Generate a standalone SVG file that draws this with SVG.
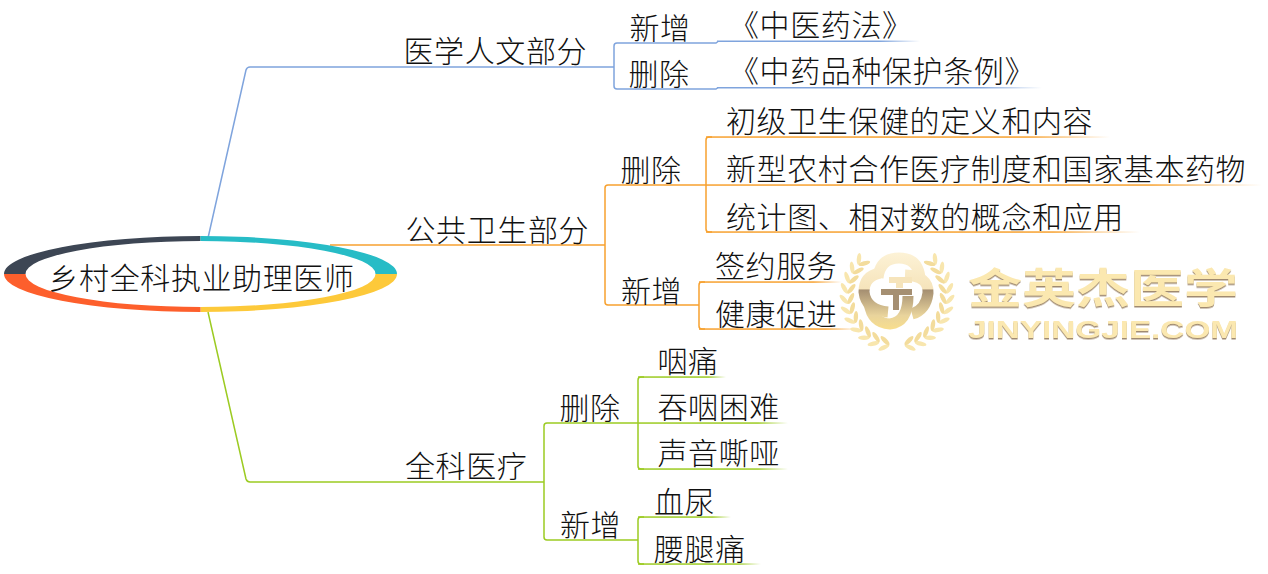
<svg xmlns="http://www.w3.org/2000/svg" width="1268" height="574" viewBox="0 0 1268 574">
<style>
text{font-family:"Noto Sans CJK SC","Noto Sans CJK JP",sans-serif;font-size:30px;font-weight:300;fill:#111;letter-spacing:.6px}
.c{fill:none;stroke-width:1.5}
.b{stroke:#7fa4dd}.o{stroke:#f7a12f}.g{stroke:#9ccb22}
.wm{fill:#fbe8b0;font-weight:700;filter:url(#sh);letter-spacing:0}
.gold{fill:none;stroke:url(#gold);stroke-width:11}
</style>
<defs>
<linearGradient id="fb"><stop offset="0" stop-color="#7fa4dd"/><stop offset=".8" stop-color="#7fa4dd"/><stop offset="1" stop-color="#7fa4dd" stop-opacity="0"/></linearGradient>
<linearGradient id="fo"><stop offset="0" stop-color="#f7a12f"/><stop offset=".8" stop-color="#f7a12f"/><stop offset="1" stop-color="#f7a12f" stop-opacity="0"/></linearGradient>
<linearGradient id="fg"><stop offset="0" stop-color="#9ccb22"/><stop offset=".8" stop-color="#9ccb22"/><stop offset="1" stop-color="#9ccb22" stop-opacity="0"/></linearGradient>
<linearGradient id="gold" gradientUnits="userSpaceOnUse" x1="0" y1="250" x2="0" y2="332"><stop offset="0" stop-color="#fdf3d8"/><stop offset=".47" stop-color="#f6e4bb"/><stop offset=".49" stop-color="#a58f72"/><stop offset=".8" stop-color="#e9d49c"/><stop offset="1" stop-color="#fbe08a"/></linearGradient>
<filter id="sh" x="-5%" y="-10%" width="110%" height="125%"><feDropShadow dx="0" dy="1.5" stdDeviation=".4" flood-color="#a08a70"/></filter>
<g id="leafL"><ellipse cx="901" cy="243" rx="2.2" ry="6" fill="#f8e6ae" transform="rotate(55 901 243)"/><ellipse cx="901" cy="250" rx="2.2" ry="6" fill="#f3dc9c" transform="rotate(125 901 250)"/></g>
<g id="leafR"><ellipse cx="893" cy="243" rx="2.2" ry="6" fill="#f8e6ae" transform="rotate(-55 893 243)"/><ellipse cx="893" cy="250" rx="2.2" ry="6" fill="#f3dc9c" transform="rotate(-125 893 250)"/></g>
</defs>

<g id="connectors">
<path class="c b" d="M208 238 L246 70 Q247 67 250 67 L614 67"/>
<path class="c b" d="M614 67 V46 Q614 43 617 43 H716 L718 41.5 M614 67 V86 Q614 89 617 89 H716 L718 87.5"/>
<rect x="717" y="40.5" width="203" height="1.5" fill="url(#fb)"/>
<rect x="717" y="87" width="325" height="1.5" fill="url(#fb)"/>

<path class="c o" d="M330 245 H605"/>
<path class="c o" d="M605 245 V188 Q605 185 608 185 H706 M605 245 V302 Q605 305 608 305 H699"/>
<path class="c o" d="M706 185 V140 Q706 137 709 137 H712 M706 185 V229 Q706 232 709 232 H712"/>
<rect x="706" y="136.3" width="404" height="1.5" fill="url(#fo)"/>
<rect x="706" y="184.3" width="556" height="1.5" fill="url(#fo)"/>
<rect x="706" y="231.3" width="434" height="1.5" fill="url(#fo)"/>
<path class="c o" d="M699 305 V285 Q699 282 702 282 H705 M699 305 V326 Q699 329 702 329 H705"/>
<rect x="699" y="281.3" width="143" height="1.5" fill="url(#fo)"/>
<rect x="699" y="328.3" width="158" height="1.5" fill="url(#fo)"/>

<path class="c g" d="M208 312 L246 479 Q247 482 250 482 L544 482"/>
<path class="c g" d="M544 482 V426 Q544 423 547 423 H638 M544 482 V537 Q544 540 547 540 H638"/>
<path class="c g" d="M638 423 V380 Q638 377 641 377 H644 M638 423 V466 Q638 469 641 469 H644"/>
<rect x="638" y="376.3" width="88" height="1.5" fill="url(#fg)"/>
<rect x="638" y="422.3" width="150" height="1.5" fill="url(#fg)"/>
<rect x="638" y="468.3" width="150" height="1.5" fill="url(#fg)"/>
<path class="c g" d="M638 540 V520 Q638 517 641 517 H644 M638 540 V561 Q638 564 641 564 H644"/>
<rect x="638" y="516.3" width="93" height="1.5" fill="url(#fg)"/>
<rect x="638" y="563.3" width="123" height="1.5" fill="url(#fg)"/>
</g>

<g id="root">
<path fill="#3d4654" d="M4 274 A196.5 38 0 0 1 200.5 236 V241 A175 33 0 0 0 25.5 274 Z"/>
<path fill="#27bcc6" d="M397 274 A196.5 38 0 0 0 200.5 236 V241 A175 33 0 0 1 375.5 274 Z"/>
<path fill="#fdc93a" d="M397 274 A196.5 38 0 0 1 200.5 312 V307 A175 33 0 0 0 375.5 274 Z"/>
<path fill="#fd5f2c" d="M4 274 A196.5 38 0 0 0 200.5 312 V307 A175 33 0 0 1 25.5 274 Z"/>
<text x="48.5" y="289">乡村全科执业助理医师</text>
</g>

<g id="n-renwen"><text x="403.5" y="62">医学人文部分</text></g>
<g id="n-renwen-add"><text x="629.5" y="39">新增</text></g>
<g id="n-renwen-add-1"><text x="729" y="36">《中医药法》</text></g>
<g id="n-renwen-del"><text x="628.5" y="85">删除</text></g>
<g id="n-renwen-del-1"><text x="729" y="82">《中药品种保护条例》</text></g>

<g id="n-gonggong"><text x="405.5" y="241">公共卫生部分</text></g>
<g id="n-gg-del"><text x="620.5" y="181">删除</text></g>
<g id="n-gg-del-1"><text x="726" y="132">初级卫生保健的定义和内容</text></g>
<g id="n-gg-del-2"><text x="726" y="180">新型农村合作医疗制度和国家基本药物</text></g>
<g id="n-gg-del-3"><text x="726" y="228">统计图、相对数的概念和应用</text></g>
<g id="n-gg-add"><text x="621" y="302">新增</text></g>
<g id="n-gg-add-1"><text x="715" y="277">签约服务</text></g>
<g id="n-gg-add-2"><text x="715" y="325">健康促进</text></g>

<g id="n-quanke"><text x="405" y="477">全科医疗</text></g>
<g id="n-qk-del"><text x="559.5" y="419">删除</text></g>
<g id="n-qk-del-1"><text x="657.5" y="372">咽痛</text></g>
<g id="n-qk-del-2"><text x="657.5" y="418">吞咽困难</text></g>
<g id="n-qk-del-3"><text x="657.5" y="464">声音嘶哑</text></g>
<g id="n-qk-add"><text x="560" y="536">新增</text></g>
<g id="n-qk-add-1"><text x="654" y="513">血尿</text></g>
<g id="n-qk-add-2"><text x="654" y="560">腰腿痛</text></g>

<g id="watermark">
<use href="#leafL" transform="rotate(-50 897 296)"/><use href="#leafL" transform="rotate(-62 897 296)"/><use href="#leafL" transform="rotate(-74 897 296)"/><use href="#leafL" transform="rotate(-86 897 296)"/><use href="#leafL" transform="rotate(-98 897 296)"/><use href="#leafL" transform="rotate(-110 897 296)"/><use href="#leafL" transform="rotate(-122 897 296)"/><use href="#leafL" transform="rotate(-134 897 296)"/><use href="#leafL" transform="rotate(-146 897 296)"/><use href="#leafL" transform="rotate(-158 897 296)"/><use href="#leafL" transform="rotate(-170 897 296)"/>
<use href="#leafR" transform="rotate(50 897 296)"/><use href="#leafR" transform="rotate(62 897 296)"/><use href="#leafR" transform="rotate(74 897 296)"/><use href="#leafR" transform="rotate(86 897 296)"/><use href="#leafR" transform="rotate(98 897 296)"/><use href="#leafR" transform="rotate(110 897 296)"/><use href="#leafR" transform="rotate(122 897 296)"/><use href="#leafR" transform="rotate(134 897 296)"/><use href="#leafR" transform="rotate(146 897 296)"/><use href="#leafR" transform="rotate(158 897 296)"/><use href="#leafR" transform="rotate(170 897 296)"/>
<path class="gold" d="M878 278 Q880 258 899 258 Q918 258 920 278"/>
<path class="gold" d="M880 273 Q864 276 864 292 Q866 310 888 312"/>
<path class="gold" d="M905 275 Q929 276 928 293 Q926 310 912 314"/>
<path class="gold" d="M869 303 Q872 323 890 324 Q908 322 908 296"/>
<path fill="#a58f72" d="M881 289 H912 V295 H899 V310 H893 V295 H881 Z"/>
<path fill="#f6e4bb" d="M889 277 H912 V283 H903 V288 H896 V283 H889 Z"/>
<text class="wm" x="968" y="303" style="font-size:41px" textLength="270" lengthAdjust="spacingAndGlyphs">金英杰医学</text>
<text class="wm" x="968" y="338" style="font-size:24px;font-family:'Liberation Sans',sans-serif" textLength="270" lengthAdjust="spacingAndGlyphs">JINYINGJIE.COM</text>
</g>
</svg>
